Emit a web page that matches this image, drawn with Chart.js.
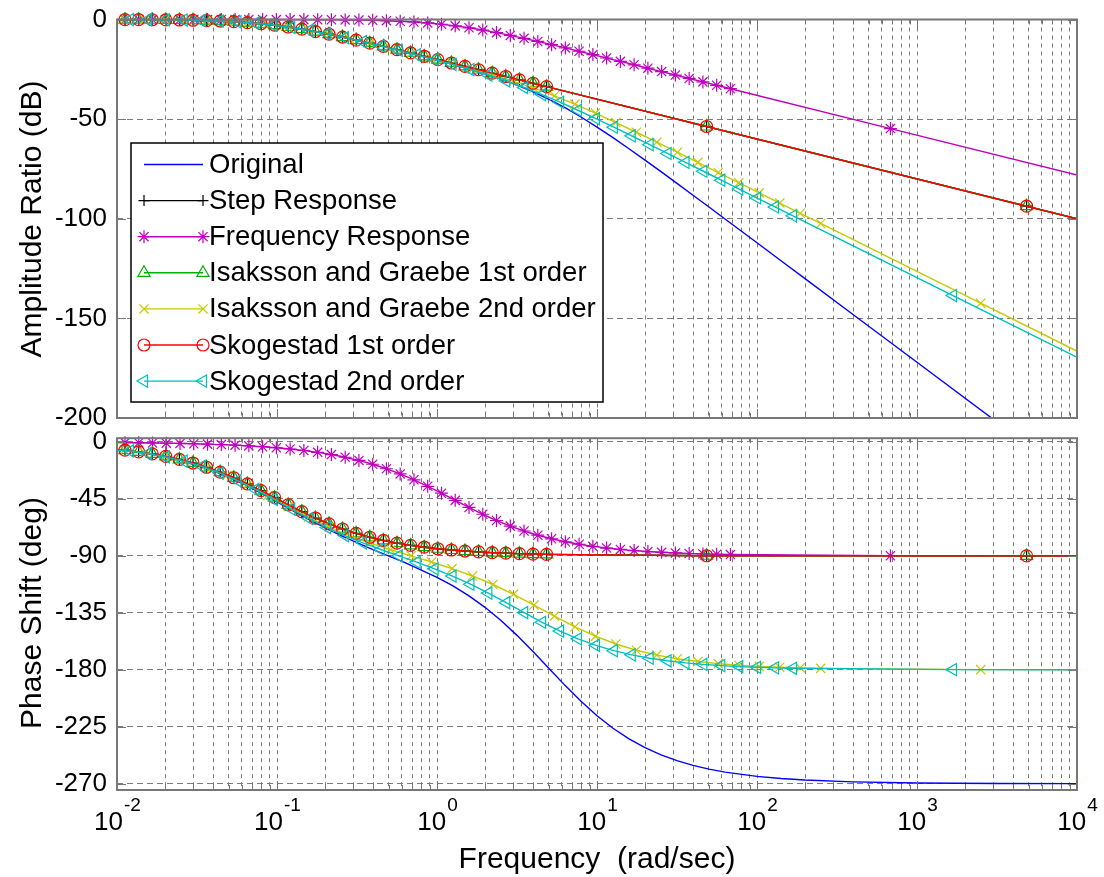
<!DOCTYPE html>
<html>
<head>
<meta charset="utf-8">
<title>Bode plot</title>
<script src="https://cdn.jsdelivr.net/npm/chart.js@4.4.1/dist/chart.umd.min.js"></script>
<style>
  html, body { margin: 0; padding: 0; background: #fff; }
  #wrap { position: relative; width: 1104px; height: 877px; overflow: hidden; }
  canvas { position: absolute; left: 0; }
  #ampChart { top: 0; }
  #phaseChart { top: 430px; }
</style>
</head>
<body>
<div id="wrap">
  <canvas id="ampChart" width="1104" height="430"></canvas>
  <canvas id="phaseChart" width="1104" height="447"></canvas>
</div>
<script>
// values: frequency in rad/sec, amplitude ratio in dB, phase in deg

// Original (line only)
const freqOriginal = [0.01, 0.01585, 0.02512, 0.03981, 0.0631, 0.1, 0.1585, 0.2512, 0.3981, 0.631, 1, 1.259, 1.585, 1.995, 2.512, 3.162, 3.981, 5.012, 6.31, 7.943, 10, 12.59, 15.85, 19.95, 25.12, 31.62, 39.81, 50.12, 63.1, 100, 141.3, 199.5, 398.1, 1000, 3162, 10000];
const ampOriginal = [-0.04, -0.11, -0.27, -0.64, -1.46, -3.01, -5.46, -8.66, -12.32, -16.25, -20.38, -22.56, -24.85, -27.30, -29.96, -32.93, -36.27, -40.04, -44.28, -48.94, -53.98, -59.31, -64.87, -70.57, -76.38, -82.26, -88.18, -94.13, -100.10, -112.06, -121.05, -130.05, -148.04, -172.04, -202.04, -232.04];
const phaseOriginal = [-5.94, -9.37, -14.68, -22.62, -33.70, -47.29, -61.38, -74.04, -85.00, -95.39, -106.91, -113.73, -121.57, -130.65, -141.06, -152.81, -165.62, -179.00, -192.31, -204.90, -216.30, -226.22, -234.62, -241.57, -247.25, -251.84, -255.54, -258.49, -260.85, -264.22, -265.90, -267.10, -268.55, -269.43, -269.82, -269.94];

// first order fits (step response, Isaksson & Graebe 1st, Skogestad 1st lie on top of each other)
const freqFirst = [0.001122, 0.01122, 0.01365, 0.0166, 0.02018, 0.02455, 0.02985, 0.03631, 0.04416, 0.0537, 0.06531, 0.07943, 0.09661, 0.1175, 0.1429, 0.1738, 0.2113, 0.257, 0.3126, 0.3802, 0.4624, 0.5623, 0.6839, 0.8318, 1.012, 1.23, 1.496, 1.82, 2.213, 2.692, 3.273, 3.981, 4.842, 48.42, 4842, 48420];
const ampFirst = [0, -0.05, -0.08, -0.12, -0.17, -0.25, -0.37, -0.54, -0.77, -1.10, -1.54, -2.13, -2.86, -3.77, -4.83, -6.04, -7.38, -8.81, -10.32, -11.89, -13.50, -15.14, -16.79, -18.46, -20.14, -21.83, -23.52, -25.21, -26.91, -28.61, -30.30, -32.00, -33.70, -53.70, -93.70, -113.70];
const phaseFirst = [-0.64, -6.40, -7.77, -9.42, -11.41, -13.79, -16.62, -19.95, -23.83, -28.24, -33.15, -38.46, -44.01, -49.60, -55.01, -60.09, -64.68, -68.74, -72.26, -75.26, -77.80, -79.92, -81.68, -83.14, -84.35, -85.35, -86.18, -86.85, -87.41, -87.87, -88.25, -88.56, -88.82, -89.88, -90.00, -90.00];

// Frequency Response fit
const freqFreqResp = [0.001122, 0.01122, 0.01368, 0.01667, 0.02032, 0.02477, 0.0302, 0.03681, 0.04487, 0.0547, 0.06668, 0.08128, 0.09908, 0.1208, 0.1472, 0.1795, 0.2188, 0.2667, 0.3251, 0.3963, 0.4831, 0.5888, 0.7178, 0.875, 1.067, 1.3, 1.585, 1.932, 2.355, 2.871, 3.5, 4.266, 5.2, 6.339, 7.727, 9.419, 11.48, 14, 17.06, 20.8, 25.35, 30.9, 37.67, 45.92, 55.98, 68.23, 682.3, 68230];
const ampFreqResp = [0, 0, 0, 0, 0, 0, 0, 0, -0.01, -0.01, -0.01, -0.02, -0.03, -0.04, -0.06, -0.09, -0.13, -0.19, -0.28, -0.42, -0.60, -0.87, -1.24, -1.73, -2.38, -3.19, -4.16, -5.30, -6.58, -7.98, -9.46, -11.02, -12.63, -14.27, -15.94, -17.62, -19.31, -21.02, -22.73, -24.44, -26.15, -27.87, -29.59, -31.31, -33.02, -34.74, -54.74, -94.74];
const phaseFreqResp = [-0.05, -0.51, -0.63, -0.76, -0.93, -1.14, -1.38, -1.69, -2.06, -2.51, -3.05, -3.72, -4.53, -5.52, -6.72, -8.17, -9.93, -12.04, -14.58, -17.59, -21.13, -25.22, -29.87, -34.99, -40.47, -46.13, -51.74, -57.10, -62.05, -66.47, -70.35, -73.67, -76.48, -78.85, -80.81, -82.44, -83.79, -84.90, -85.81, -86.56, -87.18, -87.68, -88.10, -88.44, -88.72, -88.95, -89.90, -90.00];

// Isaksson and Graebe 2nd order
const freqIG2 = [0.001112, 0.01112, 0.01493, 0.02004, 0.02692, 0.03614, 0.04853, 0.06516, 0.0875, 0.1175, 0.1578, 0.2118, 0.2844, 0.3819, 0.5129, 0.6887, 0.9247, 1.242, 1.667, 2.239, 3.006, 4.037, 5.42, 7.278, 9.772, 13.12, 17.62, 23.66, 31.77, 42.66, 57.28, 76.91, 103.3, 138.7, 186.2, 250, 2500, 250000];
const ampIG2 = [0, -0.05, -0.10, -0.17, -0.30, -0.53, -0.92, -1.54, -2.47, -3.77, -5.43, -7.40, -9.60, -11.95, -14.41, -16.94, -19.53, -22.19, -24.96, -27.87, -31.02, -34.47, -38.29, -42.47, -46.97, -51.70, -56.59, -61.58, -66.62, -71.70, -76.80, -81.90, -87.02, -92.13, -97.25, -102.37, -142.36, -222.36];
const phaseIG2 = [-0.65, -6.48, -8.67, -11.57, -15.39, -20.31, -26.47, -33.87, -42.24, -51.01, -59.53, -67.27, -74.04, -79.92, -85.12, -89.97, -94.82, -100.02, -105.87, -112.62, -120.36, -128.87, -137.64, -146.01, -153.43, -159.61, -164.55, -168.39, -171.29, -173.50, -175.15, -176.39, -177.30, -177.99, -178.51, -178.89, -179.89, -180.00];

// Skogestad 2nd order
const freqSko2 = [0.001205, 0.01205, 0.0156, 0.02018, 0.02612, 0.03381, 0.04375, 0.05662, 0.07328, 0.09484, 0.1227, 0.1589, 0.2056, 0.2661, 0.3443, 0.4457, 0.5768, 0.7464, 0.9661, 1.25, 1.618, 2.094, 2.71, 3.508, 4.539, 5.875, 7.603, 9.84, 12.74, 16.48, 21.33, 27.61, 35.73, 46.24, 59.84, 77.45, 100.2, 129.7, 167.9, 1679, 167900];
const ampSko2 = [0, -0.06, -0.10, -0.17, -0.29, -0.47, -0.76, -1.21, -1.87, -2.79, -4.00, -5.48, -7.20, -9.10, -11.14, -13.27, -15.48, -17.75, -20.10, -22.54, -25.11, -27.87, -30.87, -34.14, -37.70, -41.52, -45.55, -49.73, -54.03, -58.40, -62.81, -67.25, -71.70, -76.16, -80.64, -85.11, -89.59, -94.07, -98.54, -138.54, -218.54];
const phaseSko2 = [-0.70, -7.08, -9.14, -11.76, -15.09, -19.26, -24.38, -30.49, -37.49, -45.11, -52.94, -60.54, -67.59, -73.96, -79.71, -84.97, -89.98, -94.99, -100.25, -105.99, -112.36, -119.41, -127.00, -134.83, -142.45, -149.45, -155.57, -160.71, -164.88, -168.22, -170.84, -172.90, -174.51, -175.76, -176.71, -177.47, -178.04, -178.49, -178.83, -179.89, -180.00];

const seriesNames = ['Original', 'Step Response', 'Frequency Response', 'Isaksson and Graebe 1st order', 'Isaksson and Graebe 2nd order', 'Skogestad 1st order', 'Skogestad 2nd order'];

// axes
const decadeValues = [0.01, 0.1, 1, 10, 100, 1000, 10000];
const decadeExponents = ['-2', '-1', '0', '1', '2', '3', '4'];
const minorSteps = [1, 2, 3, 4, 5, 6, 7, 8, 9];
const ampTicks = [-200, -150, -100, -50, 0];
const phaseTicks = [-270, -225, -180, -135, -90, -45, 0];

const FONT = "'Liberation Sans', Arial, Helvetica, sans-serif";
const gridColor = '#7c7c7c';
const frameColor = '#777777';

const styles = [
    { color: '#0000ff', pointStyle: 'circle', radius: 0 },
    { color: '#000000', pointStyle: 'cross', radius: 5.5 },
    { color: '#bf00bf', pointStyle: 'star', radius: 6.5 },
    { color: '#00b000', pointStyle: 'triangle', radius: 7 },
    { color: '#c8c800', pointStyle: 'crossRot', radius: 6.5 },
    { color: '#ff0000', pointStyle: 'circle', radius: 6 },
    { color: '#00bfbf', pointStyle: 'triangle', radius: 7, rotation: -90 }
];

// grid at every 1..9 x 10^n
const xGridTicks = [];
decadeValues.forEach((d, i) => {
    if (i === decadeValues.length - 1) { xGridTicks.push({ value: d, major: true }); return; }
    minorSteps.forEach(m => xGridTicks.push({ value: d * m, major: m === 1 }));
});

function pts(freq, vals) {
    return freq.map((f, i) => ({ x: f, y: vals[i] }));
}

function buildSets(kind) {
    const amp = kind === 'amp';
    const src = [
        [freqOriginal, amp ? ampOriginal : phaseOriginal],
        [freqFirst, amp ? ampFirst : phaseFirst],
        [freqFreqResp, amp ? ampFreqResp : phaseFreqResp],
        [freqFirst, amp ? ampFirst : phaseFirst],
        [freqIG2, amp ? ampIG2 : phaseIG2],
        [freqFirst, amp ? ampFirst : phaseFirst],
        [freqSko2, amp ? ampSko2 : phaseSko2]
    ];
    return src.map((s, i) => ({
        label: seriesNames[i],
        data: pts(s[0], s[1]),
        borderColor: styles[i].color,
        borderWidth: 1.4,
        pointStyle: styles[i].pointStyle,
        pointRadius: styles[i].radius,
        pointRotation: styles[i].rotation || 0,
        pointBorderColor: styles[i].color,
        pointBackgroundColor: 'rgba(0,0,0,0)',
        pointBorderWidth: 1.2,
        fill: false,
        order: 7 - i,   // MATLAB plots later series on top
        clip: { left: 0, top: 8, right: 0, bottom: 0 }
    }));
}

function xScale(height) {
    return {
        type: 'logarithmic', min: 0.01, max: 10000,
        afterBuildTicks: s => { s.ticks = xGridTicks.map(t => ({ value: t.value, major: t.major })); },
        afterFit: s => { s.height = height; s.paddingLeft = 0; s.paddingRight = 0; },
        ticks: { display: false },
        grid: { color: gridColor, lineWidth: 1, drawTicks: false },
        border: { display: false, dash: [4, 4] }
    };
}

function yScale(min, max, tickList) {
    return {
        min: min, max: max,
        afterBuildTicks: s => { s.ticks = tickList.map(v => ({ value: v })); },
        afterFit: s => { s.width = 117; s.paddingTop = 0; s.paddingBottom = 0; },
        ticks: { color: '#000', font: { family: FONT, size: 26 }, padding: 10, autoSkip: false, callback: v => String(v) },
        grid: { color: gridColor, lineWidth: 1, drawTicks: false },
        border: { display: false, dash: [6, 4] }
    };
}

function marker(ctx, st, x, y) {
    if (!st.radius) return;
    ctx.fillStyle = 'rgba(0,0,0,0)';
    Chart.helpers.drawPoint(ctx, { pointStyle: st.pointStyle, rotation: st.rotation || 0, radius: st.radius, borderWidth: 1.2 }, x, y);
}

function drawLegend(ctx) {
    const box = { left: 131, top: 143, right: 603, bottom: 402 };
    ctx.fillStyle = '#fff';
    ctx.fillRect(box.left, box.top, box.right - box.left, box.bottom - box.top);
    ctx.strokeStyle = '#000'; ctx.lineWidth = 1.5;
    ctx.strokeRect(box.left, box.top, box.right - box.left, box.bottom - box.top);
    ctx.font = '27.5px ' + FONT; ctx.textAlign = 'left'; ctx.textBaseline = 'middle';
    seriesNames.forEach((name, i) => {
        const y = 164.5 + i * 36.1;
        const st = styles[i];
        ctx.strokeStyle = st.color; ctx.lineWidth = 1.4;
        ctx.beginPath(); ctx.moveTo(144, y); ctx.lineTo(203, y); ctx.stroke();
        ctx.lineWidth = 1.2;
        marker(ctx, st, 144, y);
        marker(ctx, st, 203, y);
        ctx.fillStyle = '#000';
        ctx.fillText(name, 209, y + 1);
    });
}

// box, inward tick marks, axis titles, legend and decade labels
const bodeFrame = {
    id: 'bodeFrame',
    afterDraw(chart, args, opts) {
        const ctx = chart.ctx, a = chart.chartArea;
        const xs = chart.scales.x, ys = chart.scales.y;
        ctx.save();
        ctx.strokeStyle = frameColor; ctx.lineWidth = 1;
        ctx.beginPath();
        xs.ticks.forEach(t => {
            const px = Math.round(xs.getPixelForValue(t.value)) + 0.5;
            const len = t.major ? 9 : 5;
            ctx.moveTo(px, a.bottom); ctx.lineTo(px, a.bottom - len);
            ctx.moveTo(px, a.top); ctx.lineTo(px, a.top + len);
        });
        ys.ticks.forEach(t => {
            const py = Math.round(ys.getPixelForValue(t.value)) + 0.5;
            ctx.moveTo(a.left, py); ctx.lineTo(a.left + 9, py);
            ctx.moveTo(a.right, py); ctx.lineTo(a.right - 9, py);
        });
        ctx.stroke();
        ctx.lineWidth = 2;
        ctx.strokeRect(a.left, a.top, a.right - a.left, a.bottom - a.top);

        // y title
        ctx.save();
        ctx.translate(41, opts.yTitleY);
        ctx.rotate(-Math.PI / 2);
        ctx.fillStyle = '#000'; ctx.font = '30px ' + FONT;
        ctx.textAlign = 'center'; ctx.textBaseline = 'alphabetic';
        ctx.fillText(opts.yTitle, 0, 0);
        ctx.restore();

        if (opts.legend) drawLegend(ctx);

        if (opts.xLabels) {
            ctx.fillStyle = '#000'; ctx.textAlign = 'left'; ctx.textBaseline = 'alphabetic';
            decadeValues.forEach((v, i) => {
                const px = xs.getPixelForValue(v);
                ctx.font = '26px ' + FONT;
                const wBase = ctx.measureText('10').width;
                ctx.font = '19px ' + FONT;
                const wExp = ctx.measureText(decadeExponents[i]).width;
                const left = px - (wBase + wExp) / 2;
                ctx.font = '26px ' + FONT;
                ctx.fillText('10', left, 400);
                ctx.font = '19px ' + FONT;
                ctx.fillText(decadeExponents[i], left + wBase + 1, 381);
            });
            ctx.font = '30px ' + FONT; ctx.textAlign = 'center';
            ctx.fillText('Frequency  (rad/sec)', (a.left + a.right) / 2, 438);
        }
        ctx.restore();
    }
};

function makeChart(id, kind, cfg) {
    return new Chart(document.getElementById(id), {
        type: 'line',
        data: { datasets: buildSets(kind) },
        options: {
            responsive: false, animation: false, devicePixelRatio: 1, events: [],
            layout: { padding: cfg.padding },
            plugins: { legend: { display: false }, tooltip: { enabled: false }, bodeFrame: cfg.frame },
            scales: { x: xScale(cfg.xHeight), y: cfg.y }
        },
        plugins: [bodeFrame]
    });
}

makeChart('ampChart', 'amp', {
    padding: { top: 19.5, right: 27, bottom: 0, left: 0 },
    xHeight: 12,
    y: yScale(-200, 0, ampTicks),
    frame: { yTitle: 'Amplitude Ratio (dB)', yTitleY: 219, legend: true, xLabels: false }
});

makeChart('phaseChart', 'phase', {
    padding: { top: 7, right: 27, bottom: 0, left: 0 },
    xHeight: 87,
    y: yScale(-275, 3, phaseTicks),
    frame: { yTitle: 'Phase Shift (deg)', yTitleY: 183, legend: false, xLabels: true }
});
</script>
</body>
</html>
